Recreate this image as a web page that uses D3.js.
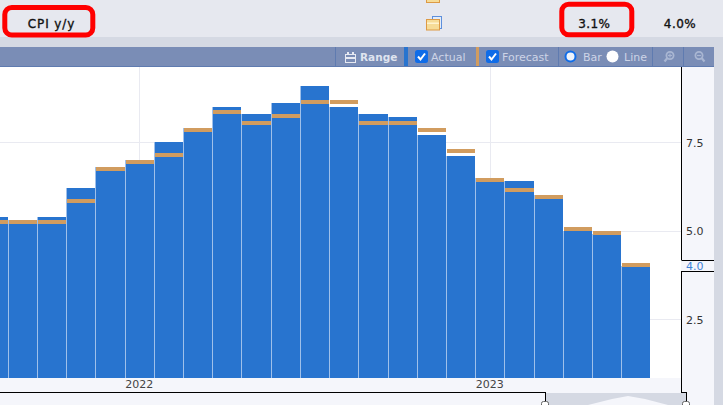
<!DOCTYPE html>
<html><head><meta charset="utf-8">
<script src="https://cdn.jsdelivr.net/npm/d3@7/dist/d3.min.js"></script>
<style>html,body{margin:0;padding:0;background:#fff;overflow:hidden}svg{display:block}text{font-family:"DejaVu Sans",sans-serif}</style>
</head><body><svg id="c" width="723" height="405"></svg>
<script>
const months=["2021-08","2021-09","2021-10","2021-11","2021-12","2022-01","2022-02","2022-03","2022-04","2022-05","2022-06","2022-07","2022-08","2022-09","2022-10","2022-11","2022-12","2023-01","2023-02","2023-03","2023-04","2023-05","2023-06"];
const actual=[5.4,5.3,5.4,6.2,6.8,7.0,7.5,7.9,8.5,8.3,8.6,9.1,8.5,8.3,8.2,7.7,7.1,6.5,6.4,6.0,5.0,4.9,4.0];
const forecast=[5.3,5.3,5.3,5.9,6.8,7.0,7.2,7.9,8.4,8.1,8.3,8.7,8.7,8.1,8.1,7.9,7.3,6.5,6.2,6.0,5.1,5.0,4.1];
const yTicks=[2.5,5.0,7.5];
const yearTicks=["2022-01","2023-01"];
const svg=d3.select("#c");
const rect=(x,y,w,h,f)=>svg.append("rect").attr("x",x).attr("y",y).attr("width",w).attr("height",h).attr("fill",f);
const line=(x1,y1,x2,y2,s,w=1)=>svg.append("line").attr("x1",x1).attr("y1",y1).attr("x2",x2).attr("y2",y2).attr("stroke",s).attr("stroke-width",w);
const text=(x,y,t,o={})=>svg.append("text").attr("x",x).attr("y",y).attr("text-anchor",o.a||"middle").attr("font-size",o.s||11).attr("font-weight",o.w||400).attr("fill",o.f||"#333").text(t);
const strong=(x,y,t,ls=.45)=>text(x,y,t,{s:12,f:"#111"}).attr("stroke","#111").attr("stroke-width",.35).attr("letter-spacing",ls);
// page
rect(0,0,723,405,"#f5f6fb");
rect(0,0,723,37,"#e6e8ef");
rect(0,37,723,10,"#d5d9e3");
rect(714,37,9,368,"#d5d9e3");
rect(0,47,714,19,"#7a8db6");
rect(0,66,714,1,"#5f7bb0");
rect(0,67,681,311,"#ffffff");
// scales
const x=d3.scaleBand().domain(months).range([-21.4,650.4]).padding(0);
const y=d3.scaleLinear().domain([0.85,9.64]).range([378,67]);
const cx=m=>x(m)+x.bandwidth()/2;
const py=v=>Math.floor(y(v));
// grid
const grid=svg.append("g");
yTicks.forEach(t=>grid.append("line").attr("x1",0).attr("x2",681).attr("y1",py(t)+.5).attr("y2",py(t)+.5).attr("stroke","#e9eaf1"));
yearTicks.forEach(m=>grid.append("line").attr("x1",Math.round(cx(m))+.5).attr("x2",Math.round(cx(m))+.5).attr("y1",67).attr("y2",378).attr("stroke","#e9eaf1"));
// bars: pale left edge, then blue body, then forecast band
svg.append("g").selectAll("rect").data(months).join("rect")
 .attr("x",m=>Math.round(x(m))).attr("width",1)
 .attr("y",(m,i)=>py(actual[i])).attr("height",(m,i)=>378-py(actual[i])).attr("fill","#9fc0ea");
svg.append("g").selectAll("rect").data(months).join("rect")
 .attr("x",m=>Math.round(x(m))+1).attr("width",m=>Math.round(x(m)+x.bandwidth())-Math.round(x(m))-1)
 .attr("y",(m,i)=>py(actual[i])).attr("height",(m,i)=>378-py(actual[i])).attr("fill","#2874cf");
svg.append("g").selectAll("rect").data(months).join("rect")
 .attr("x",m=>Math.round(x(m))+1).attr("width",m=>Math.round(x(m)+x.bandwidth())-Math.round(x(m))-1)
 .attr("y",(m,i)=>py(forecast[i])).attr("height",4).attr("fill","#d19c5f");
// right axis panel
rect(682,67,32,326,"#f5f6fb");
rect(0,378,681,14,"#f5f6fb");
line(681.5,67,681.5,260,"#000");
line(681.5,271,681.5,392,"#000");
line(681.5,260.5,714,260.5,"#000");
line(681.5,271.5,714,271.5,"#000");
const yAxis=svg.append("g").attr("transform","translate(682,0)").call(d3.axisRight(y).tickValues(yTicks).tickSize(0).tickPadding(4).tickFormat(d3.format(".1f")));
yAxis.select(".domain").remove();
yAxis.selectAll("text").attr("font-size",11).attr("font-family",null).attr("fill","#333");
text(686,270,"4.0",{a:"start",s:11,f:"#3f83d8"});
const xAxis=svg.append("g").attr("transform","translate(0,378)").call(d3.axisBottom(x).tickValues(yearTicks).tickSize(0).tickPadding(2).tickFormat(m=>m.slice(0,4)));
xAxis.select(".domain").remove();
xAxis.selectAll("text").attr("font-size",11).attr("font-family",null).attr("fill","#444");
// navigator
line(0,392.5,546,392.5,"#000");
rect(546,393,140,12,"#d5d9e3");
line(545.5,392,545.5,402,"#000");
line(686.5,392,686.5,402,"#000");
line(681,392.5,687,392.5,"#000");
svg.append("path").attr("d","M588 405L612 399L628 396L645 399L668 405Z").attr("fill","#f5f6fb");
[545,686].forEach(p=>{svg.append("rect").attr("x",p-3.5).attr("y",401.5).attr("width",7).attr("height",6).attr("rx",2).attr("fill","#fff").attr("stroke","#666");});
// top row
const box=(x0,y0,w,h)=>svg.append("rect").attr("x",x0).attr("y",y0).attr("width",w).attr("height",h).attr("rx",7).attr("fill","none").attr("stroke","#ff0000").attr("stroke-width",5);
box(4.8,7.5,88,27.5);box(561.8,4.2,70,30.6);
strong(51.5,28,"CPI y/y",.9);
strong(594.3,28,"3.1%");
strong(680,28,"4.0%");
// folder icons
const folder=(y0)=>{rect(426.5,y0,13,10.5,"#f6dc97").attr("stroke","#dd9a45");rect(427,y0+3,12,1.5,"#fff3cf");};
folder(-8);
rect(432.5,16.5,9,12,"#e3edfa").attr("stroke","#5d8fdc");
folder(19.5);
// toolbar
[335.5,558.5,652.5,683.5].forEach(p=>line(p,47,p,66,"#5f7bb0"));
rect(404,47,4,19,"#2874cf");
rect(476,47,3,19,"#d19c5f");
svg.append("rect").attr("x",345.5).attr("y",54.5).attr("width",10).attr("height",8).attr("fill","none").attr("stroke","#e6e9f2");
rect(345,57,11,2,"#e6e9f2");rect(347,52,2,3,"#e6e9f2");rect(352,52,2,3,"#e6e9f2");
text(360,61,"Range",{a:"start",s:10.5,w:700,f:"#dfe4ef"});
const chk=(x0)=>{rect(x0,50,13,13,"#0f6ce8").attr("rx",2.5);svg.append("path").attr("d",`M${x0+3} ${56.5}l2.5 3l4.5-6`).attr("fill","none").attr("stroke","#fff").attr("stroke-width",2)};
chk(415);text(431,61,"Actual",{a:"start",s:11,f:"#cdd4e6"});
chk(486);text(502,61,"Forecast",{a:"start",s:11,f:"#cdd4e6"});
svg.append("circle").attr("cx",570.5).attr("cy",56.5).attr("r",5).attr("fill","#eef3fb").attr("stroke","#0f6ce8").attr("stroke-width",2);
text(583,61,"Bar",{a:"start",s:11,f:"#cdd4e6"});
svg.append("circle").attr("cx",612.5).attr("cy",56.5).attr("r",6).attr("fill","#fff");
text(624,61,"Line",{a:"start",s:11,f:"#cdd4e6"});
const mag=(c,dir,plus)=>{svg.append("circle").attr("cx",c).attr("cy",55.5).attr("r",3.6).attr("fill","none").attr("stroke","#a9b6d2").attr("stroke-width",1.8);
 line(c+dir*2.8,58.3,c+dir*5.5,61.5,"#a9b6d2",2.2);line(c-2,55.5,c+2,55.5,"#a9b6d2",1.2);if(plus)line(c,53.5,c,57.5,"#a9b6d2",1.2);};
mag(670,-1,true);mag(699,1,false);
</script></body></html>
